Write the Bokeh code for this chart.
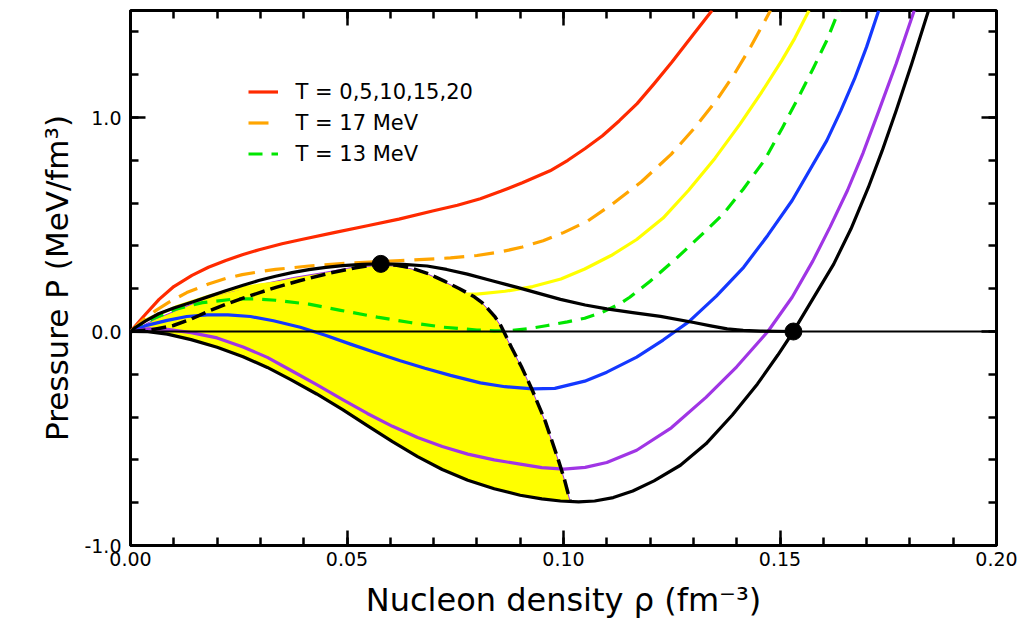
from bokeh.plotting import figure
from bokeh.models import (Range1d, LinearAxis, SingleIntervalTicker, PrintfTickFormatter,
                          Span, Legend, LegendItem, CustomLabelingPolicy)
from bokeh.embed import file_html
from bokeh.resources import INLINE

# ---------------- data ----------------
# Isotherms: nucleon density rho (fm^-3) vs pressure P (MeV/fm^3)
T20_rho = [0, 0.003, 0.0066, 0.010, 0.0142, 0.018, 0.022, 0.026, 0.0297, 0.035, 0.0395,
           0.047, 0.0547, 0.062, 0.070, 0.0755, 0.0808, 0.0855, 0.0905, 0.0969, 0.101,
           0.105, 0.109, 0.1129, 0.117, 0.1209, 0.125, 0.1289, 0.1343]
T20_P = [0, 0.070, 0.150, 0.210, 0.262, 0.300, 0.332, 0.360, 0.382, 0.410, 0.430,
         0.462, 0.494, 0.525, 0.564, 0.590, 0.620, 0.655, 0.695, 0.751, 0.800,
         0.855, 0.915, 0.985, 1.065, 1.157, 1.258, 1.360, 1.500]

T17_rho = [0, 0.003, 0.006, 0.0089, 0.013, 0.018, 0.022, 0.0258, 0.030, 0.0335, 0.0412,
           0.0508, 0.0623, 0.0739, 0.080, 0.0855, 0.0905, 0.0953, 0.100, 0.1055, 0.1113,
           0.118, 0.1249, 0.130, 0.1353, 0.1395, 0.1432, 0.1478]
T17_P = [0, 0.055, 0.100, 0.137, 0.182, 0.222, 0.248, 0.266, 0.280, 0.290, 0.306,
         0.320, 0.331, 0.344, 0.355, 0.372, 0.395, 0.424, 0.462, 0.515, 0.596,
         0.700, 0.829, 0.945, 1.079, 1.205, 1.329, 1.500]

T15_rho = [0, 0.004, 0.0104, 0.018, 0.024, 0.030, 0.036, 0.042, 0.050, 0.060, 0.066,
           0.072, 0.077, 0.080, 0.0865, 0.0929, 0.0994, 0.1049, 0.111, 0.1169, 0.123,
           0.1289, 0.135, 0.1408, 0.1455, 0.1504, 0.1534, 0.1567]
T15_P = [0, 0.058, 0.114, 0.165, 0.196, 0.218, 0.232, 0.238, 0.234, 0.215, 0.197,
         0.182, 0.175, 0.175, 0.188, 0.210, 0.245, 0.292, 0.355, 0.430, 0.530,
         0.660, 0.810, 0.970, 1.110, 1.266, 1.370, 1.500]

T13_rho = [0, 0.005, 0.0104, 0.0166, 0.0242, 0.029, 0.0335, 0.0412, 0.0485, 0.057, 0.0646,
           0.0723, 0.080, 0.084, 0.0878, 0.0925, 0.0963, 0.1009, 0.1049, 0.109, 0.1129,
           0.1153, 0.120, 0.1257, 0.131, 0.1369, 0.1415, 0.1464, 0.1505, 0.1544, 0.1578,
           0.1608, 0.1636]
T13_P = [0, 0.058, 0.104, 0.135, 0.152, 0.152, 0.146, 0.128, 0.099, 0.067, 0.042,
         0.020, 0.007, 0.003, 0.004, 0.015, 0.028, 0.045, 0.062, 0.090, 0.128,
         0.160, 0.235, 0.335, 0.435, 0.549, 0.665, 0.800, 0.950, 1.100, 1.235,
         1.360, 1.500]

T10_rho = [0, 0.004, 0.0085, 0.013, 0.0177, 0.0225, 0.0277, 0.033, 0.0392, 0.045, 0.0508,
           0.0565, 0.0623, 0.068, 0.0739, 0.0808, 0.0865, 0.0929, 0.098, 0.1049, 0.110,
           0.1169, 0.123, 0.1289, 0.1353, 0.1416, 0.1472, 0.1528, 0.1608, 0.164, 0.1672,
           0.170, 0.1728]
T10_P = [0, 0.030, 0.052, 0.070, 0.078, 0.078, 0.070, 0.050, 0.020, -0.018, -0.059,
         -0.098, -0.137, -0.172, -0.205, -0.240, -0.258, -0.268, -0.266, -0.232, -0.190,
         -0.120, -0.040, 0.045, 0.165, 0.300, 0.450, 0.612, 0.892, 1.030, 1.180,
         1.330, 1.500]

T5_rho = [0, 0.004, 0.0085, 0.014, 0.020, 0.026, 0.0316, 0.037, 0.043, 0.049, 0.0547,
          0.0605, 0.0663, 0.072, 0.0779, 0.084, 0.090, 0.095, 0.1001, 0.105, 0.110,
          0.1169, 0.1249, 0.1329, 0.140, 0.1472, 0.1528, 0.1576, 0.1616, 0.1656, 0.1692,
          0.1728, 0.1768, 0.1810]
T5_P = [0, 0.012, 0.010, -0.005, -0.030, -0.072, -0.121, -0.181, -0.248, -0.318, -0.383,
        -0.443, -0.495, -0.537, -0.573, -0.600, -0.620, -0.636, -0.643, -0.635, -0.612,
        -0.555, -0.450, -0.308, -0.165, 0.000, 0.160, 0.330, 0.490, 0.660, 0.835,
        1.030, 1.250, 1.500]

T0_rho = [0, 0.004, 0.0085, 0.014, 0.020, 0.026, 0.0316, 0.037, 0.043, 0.049, 0.0547,
          0.0605, 0.0663, 0.072, 0.0779, 0.084, 0.090, 0.095, 0.0993, 0.1035, 0.1072,
          0.1115, 0.116, 0.1209, 0.127, 0.1329, 0.139, 0.1448, 0.1495, 0.1531, 0.1544,
          0.1624, 0.1664, 0.1704, 0.1736, 0.1768, 0.1804, 0.1843]
T0_P = [0, -0.001, -0.012, -0.038, -0.074, -0.118, -0.168, -0.225, -0.292, -0.365, -0.440,
        -0.515, -0.585, -0.645, -0.695, -0.735, -0.765, -0.782, -0.792, -0.796, -0.792,
        -0.776, -0.745, -0.698, -0.625, -0.525, -0.390, -0.245, -0.110, 0.000, 0.045,
        0.315, 0.480, 0.673, 0.845, 1.030, 1.250, 1.500]

# Coexistence (binodal) curve
bin_rho = [0, 0.0012, 0.0035, 0.0065, 0.010, 0.0143, 0.018, 0.022, 0.026, 0.0296, 0.0335,
           0.0373, 0.0412, 0.0451, 0.049, 0.0535, 0.0578, 0.063, 0.0685, 0.073, 0.0778,
           0.0835, 0.0893, 0.0943, 0.0993, 0.105, 0.110, 0.116, 0.1224, 0.1301, 0.134,
           0.1378, 0.1415, 0.1455, 0.1531]
bin_P = [0, 0.020, 0.050, 0.083, 0.110, 0.138, 0.163, 0.190, 0.216, 0.238, 0.258,
         0.275, 0.289, 0.300, 0.308, 0.314, 0.316, 0.314, 0.306, 0.290, 0.268,
         0.237, 0.206, 0.178, 0.150, 0.124, 0.106, 0.088, 0.071, 0.042, 0.026,
         0.012, 0.005, 0.002, 0.0]

# Spinodal curve (dashed)
spin_rho = [0, 0.005, 0.0099, 0.014, 0.018, 0.022, 0.026, 0.030, 0.0336, 0.039, 0.046,
            0.052, 0.0578, 0.0615, 0.0648, 0.0688, 0.0725, 0.076, 0.0794, 0.0812, 0.0826,
            0.0842, 0.0856, 0.0868, 0.088, 0.0903, 0.0926, 0.0958, 0.0988, 0.1002, 0.1015]
spin_P = [0, 0.008, 0.028, 0.058, 0.095, 0.127, 0.156, 0.183, 0.206, 0.237, 0.273,
          0.298, 0.316, 0.310, 0.297, 0.270, 0.235, 0.200, 0.162, 0.135, 0.105,
          0.068, 0.025, -0.025, -0.075, -0.165, -0.265, -0.420, -0.600, -0.690, -0.790]

# Upper edge of the shaded (yellow) region
fill_top_rho = [0, 0.006, 0.012, 0.018, 0.0283, 0.0375, 0.045, 0.0508, 0.0578, 0.0615,
                0.0648, 0.0688, 0.0725, 0.076, 0.0794, 0.0812, 0.0826, 0.0842, 0.0856,
                0.0868, 0.088, 0.0903, 0.0926, 0.0958, 0.0988, 0.1002, 0.1015]
fill_top_P = [0, 0.060, 0.110, 0.160, 0.212, 0.252, 0.277, 0.298, 0.310, 0.305,
              0.293, 0.267, 0.232, 0.197, 0.160, 0.133, 0.103, 0.066, 0.023,
              -0.027, -0.077, -0.167, -0.267, -0.422, -0.602, -0.692, -0.792]

# Critical point and saturation point
dot_rho = [0.0578, 0.1531]
dot_P = [0.316, 0.0]

legend_labels = ["T = 0,5,10,15,20", "T = 17 MeV", "T = 13 MeV"]

# ---------------- figure ----------------
FONT = "DejaVu Sans"

p = figure(width=1020, height=624,
           x_range=Range1d(0, 0.2), y_range=Range1d(-1.0, 1.5),
           output_backend="svg", toolbar_location=None,
           min_border_left=130, min_border_right=24, min_border_top=10, min_border_bottom=79,
           x_axis_label="Nucleon density \u03c1 (fm\u207b\u00b3)",
           y_axis_label="Pressure P (MeV/fm\u00b3)")
p.xgrid.visible = False
p.ygrid.visible = False
p.outline_line_color = "black"
p.outline_line_width = 3
p.outline_line_alpha = 1.0
p.background_fill_color = "white"
p.border_fill_color = "white"

hide_all = CustomLabelingPolicy(code="""
for (const i of indices) {
    indices.unset(i)
}
return indices
""")


def style_axis(ax, show_labels):
    ax.axis_line_color = None
    ax.major_tick_in = 15
    ax.major_tick_out = 0
    ax.minor_tick_in = 8
    ax.minor_tick_out = 0
    ax.major_tick_line_width = 2.5
    ax.minor_tick_line_width = 2.5
    ax.major_tick_line_color = "black"
    ax.minor_tick_line_color = "black"
    if show_labels:
        ax.major_label_text_font = FONT
        ax.major_label_text_font_size = "19px"
        ax.major_label_text_color = "black"
        ax.axis_label_text_font = FONT
        ax.axis_label_text_font_style = "normal"
        ax.axis_label_text_color = "black"
    else:
        ax.major_label_policy = hide_all
        ax.major_label_text_font_size = "1px"
        ax.major_label_standoff = 0
        ax.axis_label = None


xa = p.xaxis[0]
xa.ticker = SingleIntervalTicker(interval=0.05, num_minor_ticks=5)
xa.formatter = PrintfTickFormatter(format="%.2f")
style_axis(xa, True)
xa.major_label_standoff = 6
xa.axis_label_standoff = 12
xa.axis_label_text_font_size = "32px"

ya = p.yaxis[0]
ya.ticker = SingleIntervalTicker(interval=1.0, num_minor_ticks=5)
ya.formatter = PrintfTickFormatter(format="%.1f")
style_axis(ya, True)
ya.major_label_standoff = 9
ya.axis_label_standoff = 6
ya.axis_label_text_font_size = "31px"

top_ax = LinearAxis(ticker=SingleIntervalTicker(interval=0.05, num_minor_ticks=5))
style_axis(top_ax, False)
p.add_layout(top_ax, "above")
right_ax = LinearAxis(ticker=SingleIntervalTicker(interval=1.0, num_minor_ticks=5))
style_axis(right_ax, False)
p.add_layout(right_ax, "right")

# shaded region: upper edge + T=0 isotherm back to the origin
fill_rho = list(fill_top_rho) + [r for r in reversed(T0_rho) if r < fill_top_rho[-1]]
fill_P = list(fill_top_P) + [v for r, v in zip(reversed(T0_rho), reversed(T0_P)) if r < fill_top_rho[-1]]
p.patch(fill_rho, fill_P, fill_color="#ffff00", line_color="#a035e5", line_width=1)

LW = 3.2
r20 = p.line(T20_rho, T20_P, line_color="#ff2a00", line_width=LW, line_join="round")
r17 = p.line(T17_rho, T17_P, line_color="#ffa500", line_width=LW, line_dash="20 10", line_join="round")
p.line(T15_rho, T15_P, line_color="#ffff00", line_width=LW, line_join="round")
r13 = p.line(T13_rho, T13_P, line_color="#00e600", line_width=LW, line_dash="14 9", line_join="round")
p.line(T10_rho, T10_P, line_color="#1438ff", line_width=LW, line_join="round")
p.line(T5_rho, T5_P, line_color="#a035e5", line_width=LW, line_join="round")
p.line(T0_rho, T0_P, line_color="black", line_width=LW, line_join="round")
p.line(bin_rho, bin_P, line_color="black", line_width=LW, line_join="round")
p.line(spin_rho, spin_P, line_color="black", line_width=3.5, line_dash="15 6", line_join="round")

p.add_layout(Span(location=0, dimension="width", line_color="black", line_width=2))
p.scatter(dot_rho, dot_P, size=17, marker="circle", fill_color="black", line_color="black")

legend = Legend(items=[LegendItem(label=legend_labels[0], renderers=[r20]),
                       LegendItem(label=legend_labels[1], renderers=[r17]),
                       LegendItem(label=legend_labels[2], renderers=[r13])],
                location=(117.5, 379))
legend.background_fill_alpha = 0
legend.border_line_color = None
legend.padding = 0
legend.margin = 0
legend.spacing = 6
legend.glyph_width = 30
legend.glyph_height = 25
legend.label_height = 25
legend.label_standoff = 18
legend.label_text_font = FONT
legend.label_text_font_size = "21px"
legend.label_text_color = "black"
p.add_layout(legend)

open("out.html", "w").write(file_html(p, INLINE))
